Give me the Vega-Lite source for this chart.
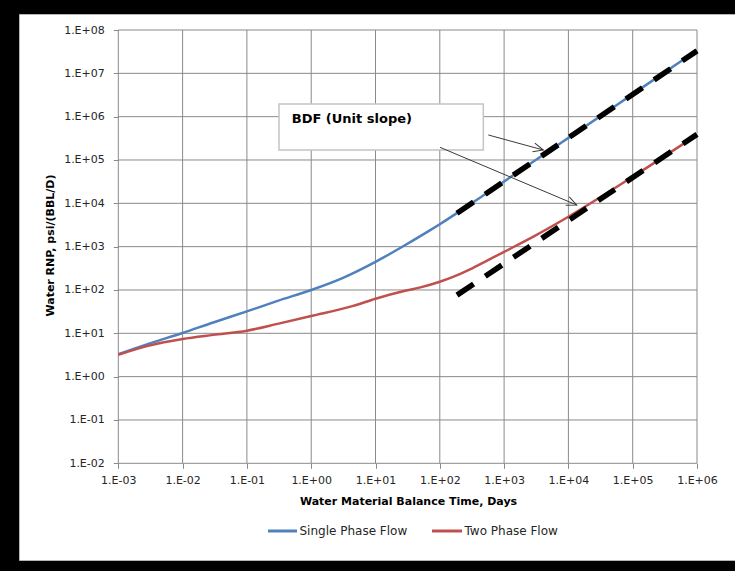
{
  "$schema": "https://vega.github.io/schema/vega-lite/v6.json",
  "width": 716,
  "height": 546,
  "autosize": {"type": "none"},
  "padding": {"left": 19, "top": 14, "right": 0, "bottom": 11},
  "background": "black",
  "config": {
    "view": {"fill": "white", "stroke": "#b4b4b4", "strokeWidth": 1},
    "font": "DejaVu Sans"
  },
  "datasets": {
    "gridx": [{"v": 0.001}, {"v": 0.01}, {"v": 0.1}, {"v": 1}, {"v": 10}, {"v": 100}, {"v": 1000}, {"v": 10000}, {"v": 100000}, {"v": 1000000}],
    "gridy": [{"v": 0.01}, {"v": 0.1}, {"v": 1}, {"v": 10}, {"v": 100}, {"v": 1000}, {"v": 10000}, {"v": 100000}, {"v": 1000000}, {"v": 10000000}, {"v": 100000000}],
    "curves": [
      {"series": "Single Phase Flow", "t": 0.001, "rnp": 3.3},
      {"series": "Single Phase Flow", "t": 0.003, "rnp": 5.8},
      {"series": "Single Phase Flow", "t": 0.01, "rnp": 10.2},
      {"series": "Single Phase Flow", "t": 0.03, "rnp": 17.8},
      {"series": "Single Phase Flow", "t": 0.1, "rnp": 32},
      {"series": "Single Phase Flow", "t": 0.3, "rnp": 56},
      {"series": "Single Phase Flow", "t": 1, "rnp": 100},
      {"series": "Single Phase Flow", "t": 3, "rnp": 186},
      {"series": "Single Phase Flow", "t": 10, "rnp": 447},
      {"series": "Single Phase Flow", "t": 30, "rnp": 1122},
      {"series": "Single Phase Flow", "t": 70, "rnp": 2371},
      {"series": "Single Phase Flow", "t": 100, "rnp": 3296},
      {"series": "Single Phase Flow", "t": 200, "rnp": 6427},
      {"series": "Single Phase Flow", "t": 500, "rnp": 16030},
      {"series": "Single Phase Flow", "t": 1000, "rnp": 32000},
      {"series": "Single Phase Flow", "t": 10000, "rnp": 323600},
      {"series": "Single Phase Flow", "t": 100000, "rnp": 3310000},
      {"series": "Single Phase Flow", "t": 1000000, "rnp": 33900000},
      {"series": "Two Phase Flow", "t": 0.001, "rnp": 3.2},
      {"series": "Two Phase Flow", "t": 0.003, "rnp": 5.2},
      {"series": "Two Phase Flow", "t": 0.01, "rnp": 7.4},
      {"series": "Two Phase Flow", "t": 0.03, "rnp": 9.2},
      {"series": "Two Phase Flow", "t": 0.1, "rnp": 11.5},
      {"series": "Two Phase Flow", "t": 0.3, "rnp": 16.5},
      {"series": "Two Phase Flow", "t": 1, "rnp": 25},
      {"series": "Two Phase Flow", "t": 4.5, "rnp": 43},
      {"series": "Two Phase Flow", "t": 10, "rnp": 63},
      {"series": "Two Phase Flow", "t": 30, "rnp": 97},
      {"series": "Two Phase Flow", "t": 50, "rnp": 115},
      {"series": "Two Phase Flow", "t": 100, "rnp": 155},
      {"series": "Two Phase Flow", "t": 200, "rnp": 229},
      {"series": "Two Phase Flow", "t": 300, "rnp": 302},
      {"series": "Two Phase Flow", "t": 500, "rnp": 447},
      {"series": "Two Phase Flow", "t": 1000, "rnp": 759},
      {"series": "Two Phase Flow", "t": 3000, "rnp": 1778},
      {"series": "Two Phase Flow", "t": 10000, "rnp": 4900},
      {"series": "Two Phase Flow", "t": 100000, "rnp": 41000},
      {"series": "Two Phase Flow", "t": 1000000, "rnp": 380000}
    ],
    "bdf": [
      {"line": "upper", "t": 185, "rnp": 5900},
      {"line": "upper", "t": 1000000, "rnp": 33000000},
      {"line": "lower", "t": 185, "rnp": 76},
      {"line": "lower", "t": 1000000, "rnp": 390000}
    ],
    "box": [{"t1": 0.3155, "t2": 475, "r1": 1960000, "r2": 170000, "tx": 0.498, "ty": 883000, "label": "BDF (Unit slope)"}],
    "arrows": [
      {"id": "a", "t1": 568, "r1": 378000, "t2": 4070, "r2": 170000},
      {"id": "b", "t1": 100.7, "r1": 196000, "t2": 13460, "r2": 9150}
    ],
    "legend": [
      {"series": "Single Phase Flow", "t1": 0.2129, "t2": 0.6014, "tt": 0.6577, "v": 0.0002739},
      {"series": "Two Phase Flow", "t1": 75.63, "t2": 221.5, "tt": 242.2, "v": 0.0002739}
    ]
  },
  "layer": [
    {
      "data": {"name": "gridx"},
      "mark": {"type": "rule", "color": "#8a8a8a", "strokeWidth": 1},
      "encoding": {
        "x": {"field": "v", "type": "quantitative", "scale": {"type": "log", "domain": [2.855e-5, 3.899e6], "nice": false, "zero": false}},
        "y": {"datum": 0.01, "type": "quantitative", "scale": {"type": "log", "domain": [5.866e-5, 2.341e8], "nice": false, "zero": false}},
        "y2": {"datum": 100000000}
      }
    },
    {
      "data": {"name": "gridy"},
      "mark": {"type": "rule", "color": "#8a8a8a", "strokeWidth": 1},
      "encoding": {
        "y": {"field": "v", "type": "quantitative", "scale": {"type": "log", "domain": [5.866e-5, 2.341e8], "nice": false, "zero": false}},
        "x": {"datum": 0.001, "type": "quantitative", "scale": {"type": "log", "domain": [2.855e-5, 3.899e6], "nice": false, "zero": false}},
        "x2": {"datum": 1000000}
      }
    },
    {
      "data": {"name": "box"},
      "mark": {"type": "rect", "fill": "white", "stroke": "#c4c4c4", "strokeWidth": 1.5},
      "encoding": {
        "x": {"field": "t1", "type": "quantitative", "scale": {"type": "log", "domain": [2.855e-5, 3.899e6], "nice": false, "zero": false}},
        "x2": {"field": "t2"},
        "y": {"field": "r1", "type": "quantitative", "scale": {"type": "log", "domain": [5.866e-5, 2.341e8], "nice": false, "zero": false}},
        "y2": {"field": "r2"}
      }
    },
    {
      "data": {"name": "box"},
      "mark": {"type": "text", "align": "left", "baseline": "middle", "font": "DejaVu Sans", "fontSize": 13, "fontWeight": "bold", "color": "black"},
      "encoding": {
        "x": {"field": "tx", "type": "quantitative", "scale": {"type": "log", "domain": [2.855e-5, 3.899e6], "nice": false, "zero": false}},
        "y": {"field": "ty", "type": "quantitative", "scale": {"type": "log", "domain": [5.866e-5, 2.341e8], "nice": false, "zero": false}},
        "text": {"field": "label"}
      }
    },
    {
      "data": {"name": "curves"},
      "mark": {"type": "line", "strokeWidth": 2.5, "interpolate": "monotone"},
      "encoding": {
        "x": {
          "field": "t", "type": "quantitative",
          "scale": {"type": "log", "domain": [2.855e-5, 3.899e6], "nice": false, "zero": false},
          "axis": {
            "values": [0.001, 0.01, 0.1, 1, 10, 100, 1000, 10000, 100000, 1000000],
            "labelExpr": "'1.E' + (datum.value < 1 ? '-' : '+') + (abs(round(log(datum.value)/LN10)) < 10 ? '0' : '') + abs(round(log(datum.value)/LN10))",
            "title": "Water Material Balance  Time, Days",
            "offset": -96.7,
            "domain": false, "grid": false,
            "tickSize": 5, "tickColor": "#8a8a8a", "tickWidth": 1,
            "labelPadding": 6, "labelFont": "DejaVu Sans", "labelFontSize": 11, "labelColor": "#262626",
            "labelOverlap": false, "labelFlush": false, "labelBound": false,
            "titleFont": "DejaVu Sans", "titleFontSize": 11, "titleFontWeight": "bold", "titleColor": "black",
            "titleX": 389, "titleY": 38.4, "titleBaseline": "middle", "titleAlign": "center"
          }
        },
        "y": {
          "field": "rnp", "type": "quantitative",
          "scale": {"type": "log", "domain": [5.866e-5, 2.341e8], "nice": false, "zero": false},
          "axis": {
            "values": [0.01, 0.1, 1, 10, 100, 1000, 10000, 100000, 1000000, 10000000, 100000000],
            "labelExpr": "'1.E' + (datum.value < 1 ? '-' : '+') + (abs(round(log(datum.value)/LN10)) < 10 ? '0' : '') + abs(round(log(datum.value)/LN10))",
            "title": "Water RNP, psi/(BBL/D)",
            "offset": -99.3,
            "domain": false, "grid": false,
            "tickSize": 5, "tickColor": "#8a8a8a", "tickWidth": 1,
            "labelPadding": 9, "labelFont": "DejaVu Sans", "labelFontSize": 11, "labelColor": "#262626",
            "labelOverlap": false, "labelFlush": false, "labelBound": false,
            "titleFont": "DejaVu Sans", "titleFontSize": 11, "titleFontWeight": "bold", "titleColor": "black",
            "titleX": -67.6, "titleY": 231, "titleAngle": 270, "titleBaseline": "middle", "titleAlign": "center"
          }
        },
        "color": {
          "field": "series", "type": "nominal",
          "scale": {"domain": ["Single Phase Flow", "Two Phase Flow"], "range": ["#4F81BD", "#C0504D"]},
          "legend": null
        }
      }
    },
    {
      "data": {"name": "legend"},
      "mark": {"type": "rule", "strokeWidth": 3},
      "encoding": {
        "x": {"field": "t1", "type": "quantitative", "scale": {"type": "log", "domain": [2.855e-5, 3.899e6], "nice": false, "zero": false}},
        "x2": {"field": "t2"},
        "y": {"field": "v", "type": "quantitative", "scale": {"type": "log", "domain": [5.866e-5, 2.341e8], "nice": false, "zero": false}},
        "color": {"field": "series", "type": "nominal", "scale": {"domain": ["Single Phase Flow", "Two Phase Flow"], "range": ["#4F81BD", "#C0504D"]}, "legend": null}
      }
    },
    {
      "data": {"name": "legend"},
      "mark": {"type": "text", "align": "left", "baseline": "middle", "font": "DejaVu Sans", "fontSize": 12, "color": "#262626"},
      "encoding": {
        "x": {"field": "tt", "type": "quantitative", "scale": {"type": "log", "domain": [2.855e-5, 3.899e6], "nice": false, "zero": false}},
        "y": {"field": "v", "type": "quantitative", "scale": {"type": "log", "domain": [5.866e-5, 2.341e8], "nice": false, "zero": false}},
        "text": {"field": "series"}
      }
    },
    {
      "data": {"name": "bdf"},
      "mark": {"type": "line", "color": "black", "strokeWidth": 5.5, "strokeDash": [20, 14], "strokeCap": "butt"},
      "encoding": {
        "x": {"field": "t", "type": "quantitative", "scale": {"type": "log", "domain": [2.855e-5, 3.899e6], "nice": false, "zero": false}},
        "y": {"field": "rnp", "type": "quantitative", "scale": {"type": "log", "domain": [5.866e-5, 2.341e8], "nice": false, "zero": false}},
        "detail": {"field": "line", "type": "nominal"}
      }
    },
    {
      "data": {"name": "arrows"},
      "mark": {"type": "rule", "color": "#3a3a3a", "strokeWidth": 1},
      "encoding": {
        "x": {"field": "t1", "type": "quantitative", "scale": {"type": "log", "domain": [2.855e-5, 3.899e6], "nice": false, "zero": false}},
        "x2": {"field": "t2"},
        "y": {"field": "r1", "type": "quantitative", "scale": {"type": "log", "domain": [5.866e-5, 2.341e8], "nice": false, "zero": false}},
        "y2": {"field": "r2"}
      }
    },
    {
      "data": {"name": "arrows"},
      "transform": [{"filter": "datum.id == 'a'"}],
      "mark": {"type": "point", "shape": "M-1,-0.45L0,0L-1,0.45", "filled": false, "stroke": "#3a3a3a", "strokeWidth": 1, "size": 400, "angle": 15.3, "opacity": 1},
      "encoding": {
        "x": {"field": "t2", "type": "quantitative", "scale": {"type": "log", "domain": [2.855e-5, 3.899e6], "nice": false, "zero": false}},
        "y": {"field": "r2", "type": "quantitative", "scale": {"type": "log", "domain": [5.866e-5, 2.341e8], "nice": false, "zero": false}}
      }
    },
    {
      "data": {"name": "arrows"},
      "transform": [{"filter": "datum.id == 'b'"}],
      "mark": {"type": "point", "shape": "M-1,-0.45L0,0L-1,0.45", "filled": false, "stroke": "#3a3a3a", "strokeWidth": 1, "size": 400, "angle": 22.9, "opacity": 1},
      "encoding": {
        "x": {"field": "t2", "type": "quantitative", "scale": {"type": "log", "domain": [2.855e-5, 3.899e6], "nice": false, "zero": false}},
        "y": {"field": "r2", "type": "quantitative", "scale": {"type": "log", "domain": [5.866e-5, 2.341e8], "nice": false, "zero": false}}
      }
    }
  ]
}
